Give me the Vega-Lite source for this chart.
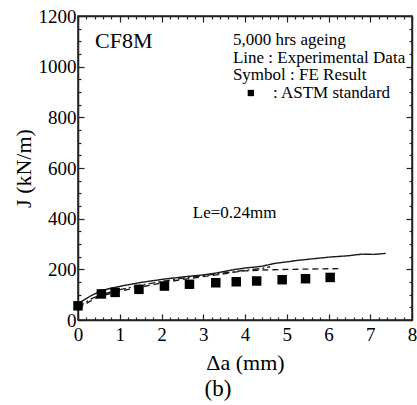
{
  "$schema": "https://vega.github.io/schema/vega-lite/v6.json",
  "width": 334,
  "height": 304,
  "autosize": {"type": "none"},
  "padding": {"left": 78, "top": 16, "right": 5, "bottom": 85},
  "background": "white",
  "config": {
    "font": "Liberation Serif",
    "view": {"stroke": "#222", "strokeWidth": 1.5},
    "axis": {
      "grid": false,
      "domainColor": "#222",
      "domainWidth": 1.5,
      "tickColor": "#222",
      "tickWidth": 1.2,
      "labelFont": "Liberation Serif",
      "labelFontSize": 19,
      "labelColor": "black",
      "labelOverlap": false,
      "labelFlush": false,
      "titleFont": "Liberation Serif",
      "titleFontSize": 22,
      "titleFontWeight": "normal",
      "titleColor": "black"
    }
  },
  "title": {"text": "(b)", "orient": "bottom", "anchor": "middle", "font": "Liberation Serif", "fontSize": 23, "fontWeight": "normal", "color": "black", "offset": 5, "dx": -27},
  "datasets": {
    "curves": [
      {"series": "Experimental", "a": 0.0, "J": 62},
      {"series": "Experimental", "a": 0.1, "J": 75},
      {"series": "Experimental", "a": 0.3, "J": 95},
      {"series": "Experimental", "a": 0.55, "J": 115},
      {"series": "Experimental", "a": 0.8, "J": 126},
      {"series": "Experimental", "a": 1.1, "J": 136},
      {"series": "Experimental", "a": 1.5, "J": 148},
      {"series": "Experimental", "a": 2.0, "J": 160},
      {"series": "Experimental", "a": 2.5, "J": 170},
      {"series": "Experimental", "a": 3.0, "J": 178},
      {"series": "Experimental", "a": 3.3, "J": 185},
      {"series": "Experimental", "a": 3.7, "J": 198},
      {"series": "Experimental", "a": 4.0, "J": 205},
      {"series": "Experimental", "a": 4.4, "J": 212},
      {"series": "Experimental", "a": 4.7, "J": 223},
      {"series": "Experimental", "a": 5.3, "J": 236},
      {"series": "Experimental", "a": 6.0, "J": 248},
      {"series": "Experimental", "a": 6.5, "J": 254},
      {"series": "Experimental", "a": 6.8, "J": 260},
      {"series": "Experimental", "a": 7.1, "J": 259},
      {"series": "Experimental", "a": 7.37, "J": 263},
      {"series": "Dashed", "a": 0.0, "J": 45},
      {"series": "Dashed", "a": 0.1, "J": 55},
      {"series": "Dashed", "a": 0.3, "J": 75},
      {"series": "Dashed", "a": 0.55, "J": 95},
      {"series": "Dashed", "a": 1.0, "J": 114},
      {"series": "Dashed", "a": 1.5, "J": 130},
      {"series": "Dashed", "a": 2.0, "J": 146},
      {"series": "Dashed", "a": 2.5, "J": 160},
      {"series": "Dashed", "a": 3.0, "J": 171},
      {"series": "Dashed", "a": 3.4, "J": 180},
      {"series": "Dashed", "a": 3.7, "J": 188},
      {"series": "Dashed", "a": 4.0, "J": 194},
      {"series": "Dashed", "a": 4.4, "J": 197},
      {"series": "Dashed", "a": 4.8, "J": 199},
      {"series": "Dashed", "a": 5.5, "J": 201},
      {"series": "Dashed", "a": 6.3, "J": 203},
      {"series": "DashDot", "a": 0.0, "J": 50},
      {"series": "DashDot", "a": 0.3, "J": 82},
      {"series": "DashDot", "a": 0.55, "J": 100},
      {"series": "DashDot", "a": 1.0, "J": 120},
      {"series": "DashDot", "a": 1.5, "J": 137},
      {"series": "DashDot", "a": 2.0, "J": 152},
      {"series": "DashDot", "a": 2.5, "J": 165},
      {"series": "DashDot", "a": 3.0, "J": 175},
      {"series": "DashDot", "a": 3.5, "J": 186},
      {"series": "DashDot", "a": 4.0, "J": 196},
      {"series": "DashDot", "a": 4.4, "J": 203},
      {"series": "DashDot", "a": 4.6, "J": 210}
    ],
    "squares": [
      {"a": 0.0, "J": 56},
      {"a": 0.56, "J": 103},
      {"a": 0.89, "J": 109},
      {"a": 1.46, "J": 121},
      {"a": 2.07, "J": 134},
      {"a": 2.67, "J": 141},
      {"a": 3.30, "J": 147},
      {"a": 3.79, "J": 151},
      {"a": 4.28, "J": 154},
      {"a": 4.89, "J": 159},
      {"a": 5.45, "J": 163},
      {"a": 6.04, "J": 168}
    ],
    "notes": [
      {"a": 0.41, "J": 1074, "label": "CF8M", "size": 22},
      {"a": 3.71, "J": 1085, "label": "5,000 hrs ageing", "size": 17},
      {"a": 3.71, "J": 1016, "label": "Line : Experimental Data", "size": 17},
      {"a": 3.71, "J": 947, "label": "Symbol : FE Result", "size": 17},
      {"a": 4.67, "J": 877, "label": ": ASTM standard", "size": 17},
      {"a": 2.75, "J": 403, "label": "Le=0.24mm", "size": 17}
    ],
    "legendSymbol": [
      {"a": 4.14, "J": 896}
    ]
  },
  "layer": [
    {
      "data": {"name": "curves"},
      "mark": {"type": "line", "color": "#1a1a1a", "strokeWidth": 1.4},
      "encoding": {
        "x": {
          "field": "a", "type": "quantitative",
          "scale": {"domain": [0, 8], "nice": false},
          "axis": {
            "orient": "bottom",
            "title": "Δa (mm)",
            "values": [0,0.2,0.4,0.6,0.8,1,1.2,1.4,1.6,1.8,2,2.2,2.4,2.6,2.8,3,3.2,3.4,3.6,3.8,4,4.2,4.4,4.6,4.8,5,5.2,5.4,5.6,5.8,6,6.2,6.4,6.6,6.8,7,7.2,7.4,7.6,7.8,8],
            "labelExpr": "datum.value % 1 == 0 ? format(datum.value, 'd') : ''",
            "labelOverlap": false,
            "tickSize": {"condition": {"test": "datum.value % 1 == 0", "value": -6}, "value": -3},
            "labelPadding": 11,
            "titlePadding": 5
          }
        },
        "y": {
          "field": "J", "type": "quantitative",
          "scale": {"domain": [0, 1200], "nice": false},
          "axis": {
            "orient": "left",
            "title": "J (kN/m)",
            "values": [0,50,100,150,200,250,300,350,400,450,500,550,600,650,700,750,800,850,900,950,1000,1050,1100,1150,1200],
            "labelExpr": "datum.value % 200 == 0 ? format(datum.value, 'd') : ''",
            "labelOverlap": false,
            "tickSize": {"condition": {"test": "datum.value % 200 == 0", "value": -6}, "value": -3},
            "labelPadding": 8,
            "titlePadding": 3
          }
        },
        "detail": {"field": "series"},
        "strokeDash": {
          "field": "series", "type": "nominal",
          "scale": {"domain": ["Experimental", "Dashed", "DashDot"], "range": [[1, 0], [6, 4], [7, 3, 2, 3]]},
          "legend": null
        }
      }
    },
    {
      "data": {"name": "squares"},
      "mark": {"type": "point", "shape": "square", "filled": true, "color": "black", "size": 90, "opacity": 1},
      "encoding": {
        "x": {
          "field": "a", "type": "quantitative",
          "scale": {"domain": [0, 8], "nice": false},
          "axis": {
            "orient": "top",
            "title": null,
            "labels": false,
            "values": [0,0.2,0.4,0.6,0.8,1,1.2,1.4,1.6,1.8,2,2.2,2.4,2.6,2.8,3,3.2,3.4,3.6,3.8,4,4.2,4.4,4.6,4.8,5,5.2,5.4,5.6,5.8,6,6.2,6.4,6.6,6.8,7,7.2,7.4,7.6,7.8,8],
            "tickSize": {"condition": {"test": "datum.value % 1 == 0", "value": -6}, "value": -3}
          }
        },
        "y": {
          "field": "J", "type": "quantitative",
          "scale": {"domain": [0, 1200], "nice": false},
          "axis": {
            "orient": "right",
            "title": null,
            "labels": false,
            "values": [0,50,100,150,200,250,300,350,400,450,500,550,600,650,700,750,800,850,900,950,1000,1050,1100,1150,1200],
            "tickSize": {"condition": {"test": "datum.value % 200 == 0", "value": -6}, "value": -3}
          }
        }
      }
    },
    {
      "data": {"name": "legendSymbol"},
      "mark": {"type": "point", "shape": "square", "filled": true, "color": "black", "size": 40, "opacity": 1},
      "encoding": {
        "x": {"field": "a", "type": "quantitative", "scale": {"domain": [0, 8], "nice": false}, "axis": null},
        "y": {"field": "J", "type": "quantitative", "scale": {"domain": [0, 1200], "nice": false}, "axis": null}
      }
    },
    {
      "data": {"name": "notes"},
      "mark": {"type": "text", "align": "left", "baseline": "alphabetic", "font": "Liberation Serif", "color": "black"},
      "encoding": {
        "x": {"field": "a", "type": "quantitative", "scale": {"domain": [0, 8], "nice": false}, "axis": null},
        "y": {"field": "J", "type": "quantitative", "scale": {"domain": [0, 1200], "nice": false}, "axis": null},
        "text": {"field": "label"},
        "size": {"field": "size", "type": "quantitative", "scale": null}
      }
    }
  ],
  "resolve": {"axis": {"x": "independent", "y": "independent"}}
}
